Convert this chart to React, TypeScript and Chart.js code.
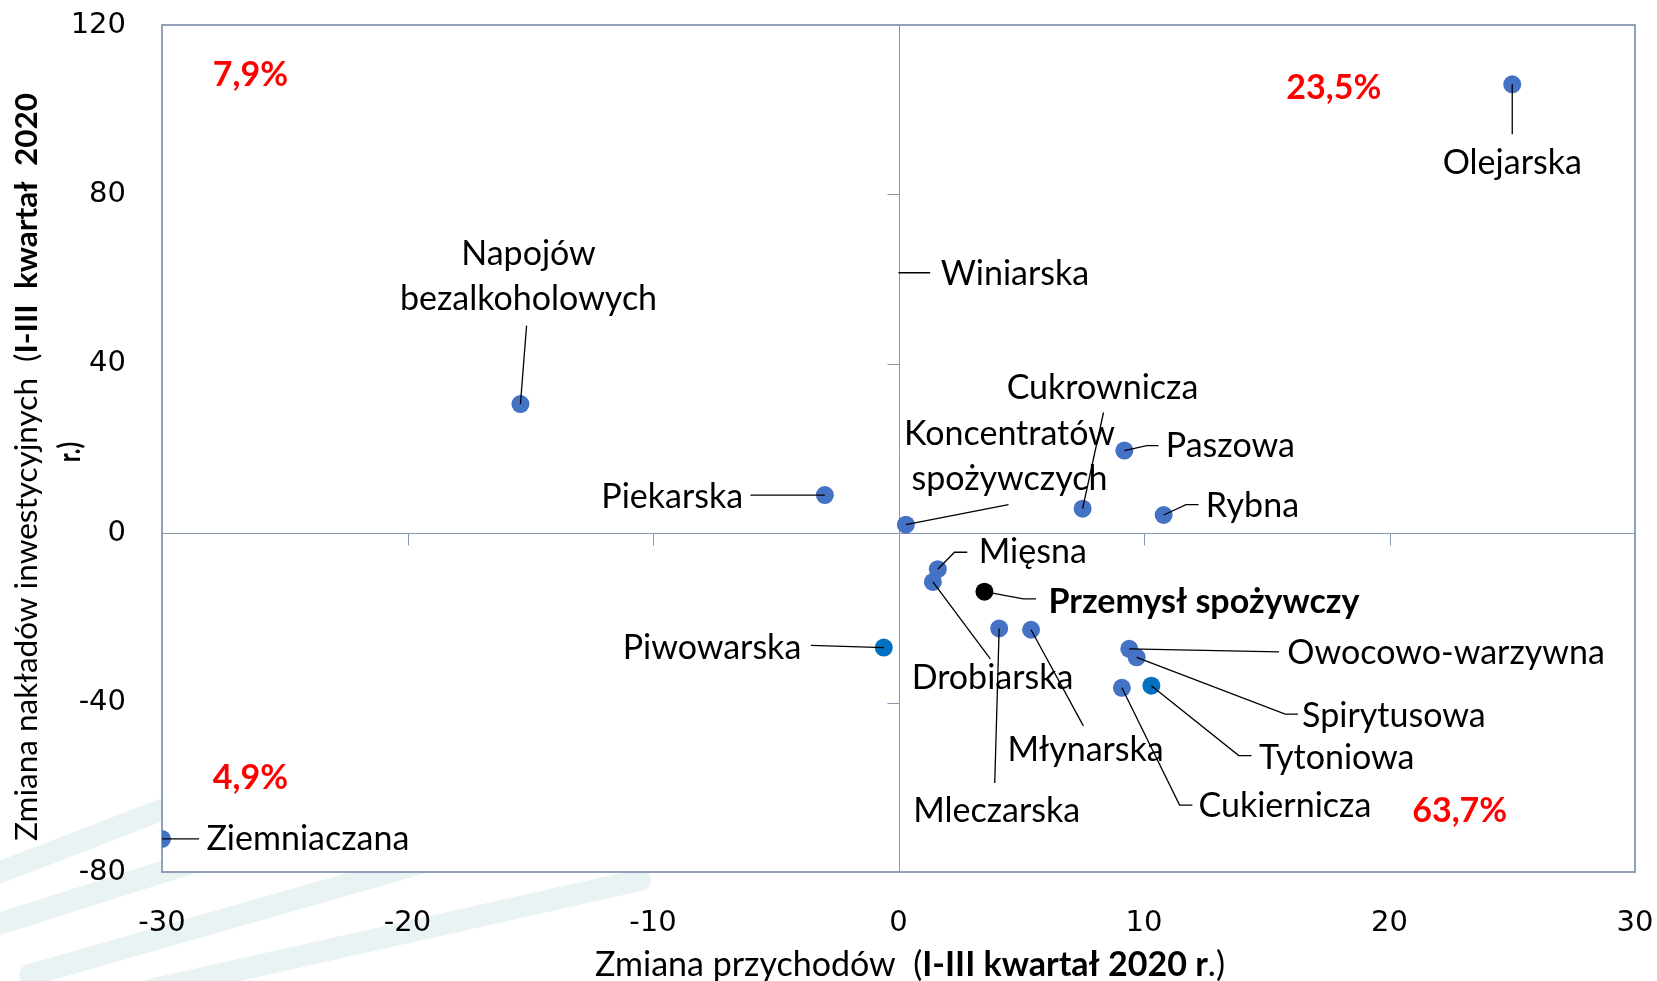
import React, { useEffect, useRef } from "react";
import { Chart, registerables } from "chart.js";
Chart.register(...registerables);

// ---------- data ----------
const categories = [
  "Olejarska",
  "Napojów bezalkoholowych",
  "Winiarska",
  "Cukrownicza",
  "Koncentratów spożywczych",
  "Paszowa",
  "Rybna",
  "Piekarska",
  "Mięsna",
  "Drobiarska",
  "Przemysł spożywczy",
  "Mleczarska",
  "Młynarska",
  "Piwowarska",
  "Owocowo-warzywna",
  "Spirytusowa",
  "Tytoniowa",
  "Cukiernicza",
  "Ziemniaczana",
];
// change of revenues (I-III quarter 2020), %
const revenueChange = [25.0, -15.4, 0.0, 7.5, 0.3, 9.2, 10.8, -3.0, 1.6, 1.4, 3.5, 4.1, 5.4, -0.6, 9.4, 9.7, 10.3, 9.1, -30.0];
// change of investment outlays (I-III quarter 2020), %
const investmentChange = [106.0, 30.5, 61.5, 5.8, 2.0, 19.5, 4.3, 9.0, -8.5, -11.5, -13.8, -22.5, -22.8, -27.0, -27.3, -29.3, -36.0, -36.5, -72.2];

const xMin = -30, xMax = 30, xStep = 10;
const yMin = -80, yMax = 120, yStep = 40;

const quadrantShares = ["7,9%", "23,5%", "4,9%", "63,7%"];
const quadrantX = [-26.4, 17.73, -26.4, 22.86];
const quadrantY = [108.2, 105.0, -57.7, -65.5];

// ---------- label placement (data units) ----------
type Placement = { align: CanvasTextAlign; x: number; y: number; path: number[][]; lines?: string[]; bold?: boolean };
const labelPlacement: Placement[] = [
  { align: "center", x: 25.0, y: 87.3, path: [[25.0, 94.2]] },
  { align: "center", x: -15.07, y: 60.6, path: [[-15.15, 49.0]], lines: ["Napojów", "bezalkoholowych"] },
  { align: "left", x: 1.72, y: 61.2, path: [[1.29, 61.5]] },
  { align: "center", x: 8.31, y: 34.2, path: [[8.35, 28.5]] },
  { align: "center", x: 4.52, y: 18.1, path: [[4.48, 6.75]], lines: ["Koncentratów", "spożywczych"] },
  { align: "left", x: 10.89, y: 20.5, path: [[10.11, 20.7], [10.59, 20.7]] },
  { align: "left", x: 12.52, y: 6.5, path: [[11.71, 6.75], [12.22, 6.75]] },
  { align: "right", x: -6.33, y: 8.5, path: [[-6.03, 9.0]] },
  { align: "left", x: 3.27, y: -4.5, path: [[2.28, -4.5], [2.8, -4.5]] },
  { align: "center", x: 3.83, y: -34.2, path: [[3.74, -29.7]] },
  { align: "left", x: 6.11, y: -16.2, path: [[5.08, -15.5], [5.6, -15.5]], bold: true },
  { align: "center", x: 4.0, y: -65.5, path: [[3.92, -59.0]] },
  { align: "center", x: 7.62, y: -51.2, path: [[7.53, -45.5]] },
  { align: "right", x: -3.96, y: -27.0, path: [[-3.57, -26.5]] },
  { align: "left", x: 15.84, y: -28.2, path: [[15.5, -28.0]] },
  { align: "left", x: 16.44, y: -43.2, path: [[15.75, -42.7], [16.27, -42.7]] },
  { align: "left", x: 14.68, y: -53.0, path: [[13.86, -52.5], [14.38, -52.5]] },
  { align: "left", x: 12.22, y: -64.5, path: [[11.45, -64.2], [11.97, -64.2]] },
  { align: "left", x: -28.19, y: -72.2, path: [[-28.49, -72.2]] },
];

const xTitleParts = [
  { t: "Zmiana przychodów  (", b: false },
  { t: "I-III kwartał 2020 r", b: true },
  { t: ".)", b: false },
];
const yTitleLine1 = [
  { t: "Zmiana nakładów inwestycyjnych  (", b: false },
  { t: "I-III  kwartał  2020", b: true },
];
const yTitleLine2 = [{ t: "r.)", b: true }];

// ---------- styles ----------
const LABEL_FONT = "Lato, 'Noto Sans', sans-serif";
const TICK_FONT = "'DejaVu Sans', Verdana, sans-serif";
const LABEL_SIZE = 34;
const FRAME = "#8797B2";
const pointColors = categories.map((n) =>
  n === "Przemysł spożywczy" ? "#000000" : n === "Piwowarska" || n === "Tytoniowa" ? "#0070C0" : "#4472C4"
);
const hiddenMarker = categories.map((n) => n === "Winiarska");

function drawRuns(ctx: CanvasRenderingContext2D, runs: { t: string; b: boolean }[], size: number, cx: number, y: number, scaleX = 1) {
  const widths = runs.map((r) => {
    ctx.font = `${r.b ? "bold " : ""}${size}px ${LABEL_FONT}`;
    return ctx.measureText(r.t).width;
  });
  const total = widths.reduce((a, b) => a + b, 0) * scaleX;
  let x = cx - total / 2;
  ctx.textAlign = "left";
  runs.forEach((r, i) => {
    ctx.font = `${r.b ? "bold " : ""}${size}px ${LABEL_FONT}`;
    ctx.save();
    ctx.translate(x, y);
    ctx.scale(scaleX, 1);
    ctx.fillText(r.t, 0, 0);
    ctx.restore();
    x += widths[i] * scaleX;
  });
  return total;
}

const decorPlugin = {
  id: "decor",
  beforeDraw(chart: any) {
    // faint background watermark in the lower-left corner
    const { ctx } = chart;
    ctx.save();
    ctx.strokeStyle = "rgba(160, 200, 200, 0.22)";
    ctx.lineCap = "round";
    const bands = [
      [[-20, 880], [330, 745]],
      [[-20, 930], [420, 790]],
      [[30, 975], [520, 835]],
      [[150, 990], [640, 880]],
    ];
    ctx.lineWidth = 22;
    bands.forEach(([a, b]) => {
      ctx.beginPath();
      ctx.moveTo(a[0], a[1]);
      ctx.lineTo(b[0], b[1]);
      ctx.stroke();
    });
    ctx.restore();
  },
  beforeDatasetsDraw(chart: any) {
    const { ctx, chartArea: a, scales } = chart;
    const xs = scales.x, ys = scales.y;
    ctx.save();
    ctx.fillStyle = "#ffffff";
    ctx.fillRect(a.left, a.top, a.right - a.left, a.bottom - a.top);
    ctx.strokeStyle = FRAME;
    ctx.lineWidth = 1;
    const x0 = Math.round(xs.getPixelForValue(0)) + 0.5;
    const y0 = Math.round(ys.getPixelForValue(0)) + 0.5;
    ctx.beginPath();
    ctx.moveTo(x0, a.top);
    ctx.lineTo(x0, a.bottom);
    ctx.moveTo(a.left, y0);
    ctx.lineTo(a.right, y0);
    for (let v = xMin + xStep; v < xMax; v += xStep) {
      if (v === 0) continue;
      const px = Math.round(xs.getPixelForValue(v)) + 0.5;
      ctx.moveTo(px, y0);
      ctx.lineTo(px, y0 + 12);
    }
    for (let v = yMin + yStep; v < yMax; v += yStep) {
      if (v === 0) continue;
      const py = Math.round(ys.getPixelForValue(v)) + 0.5;
      ctx.moveTo(x0, py);
      ctx.lineTo(x0 - 12, py);
    }
    ctx.stroke();
    ctx.lineWidth = 1.8;
    ctx.strokeRect(a.left, a.top, a.right - a.left, a.bottom - a.top);
    ctx.restore();
  },
  afterDatasetsDraw(chart: any) {
    const { ctx, scales } = chart;
    const xs = scales.x, ys = scales.y;
    ctx.save();
    ctx.strokeStyle = "#000000";
    ctx.lineWidth = 1.3;
    labelPlacement.forEach((p, i) => {
      ctx.beginPath();
      ctx.moveTo(xs.getPixelForValue(revenueChange[i]), ys.getPixelForValue(investmentChange[i]));
      p.path.forEach(([vx, vy]) => ctx.lineTo(xs.getPixelForValue(vx), ys.getPixelForValue(vy)));
      ctx.stroke();
    });
    ctx.fillStyle = "#000000";
    ctx.textBaseline = "middle";
    labelPlacement.forEach((p, i) => {
      ctx.font = `${p.bold ? "bold " : ""}${LABEL_SIZE}px ${LABEL_FONT}`;
      ctx.textAlign = p.align;
      const lines = p.lines || [categories[i]];
      const lh = 45;
      const cx = xs.getPixelForValue(p.x);
      const cy = ys.getPixelForValue(p.y);
      lines.forEach((ln, k) => {
        ctx.fillText(ln, cx, cy + (k - (lines.length - 1) / 2) * lh);
      });
    });
    ctx.fillStyle = "#FF0000";
    ctx.textAlign = "center";
    ctx.font = `bold ${LABEL_SIZE}px ${LABEL_FONT}`;
    quadrantShares.forEach((s, i) => {
      ctx.fillText(s, xs.getPixelForValue(quadrantX[i]), ys.getPixelForValue(quadrantY[i]));
    });
    ctx.restore();
  },
  afterDraw(chart: any) {
    const { ctx } = chart;
    ctx.save();
    ctx.fillStyle = "#000000";
    ctx.textBaseline = "alphabetic";
    drawRuns(ctx, xTitleParts, LABEL_SIZE, 910, 976);
    ctx.save();
    ctx.translate(37, 467);
    ctx.rotate(-Math.PI / 2);
    let w = 0;
    yTitleLine1.forEach((r) => {
      ctx.font = `${r.b ? "bold " : ""}30px ${LABEL_FONT}`;
      w += ctx.measureText(r.t).width;
    });
    drawRuns(ctx, yTitleLine1, 30, 0, 0, 748 / w);
    ctx.restore();
    ctx.save();
    ctx.translate(80, 452);
    ctx.rotate(-Math.PI / 2);
    drawRuns(ctx, yTitleLine2, 30, 0, 0, 0.8);
    ctx.restore();
    ctx.restore();
  },
};

export default function App() {
  const canvasRef = useRef<HTMLCanvasElement | null>(null);

  useEffect(() => {
    document.body.style.margin = "0";
    document.body.style.background = "#ffffff";
    const canvas = canvasRef.current!;
    const points = categories.map((_, i) => ({ x: revenueChange[i], y: investmentChange[i] }));
    const chart = new Chart(canvas, {
      type: "scatter",
      data: {
        datasets: [
          {
            label: "Branże",
            data: points,
            pointRadius: (c: any) => (hiddenMarker[c.dataIndex] ? 0 : 9),
            pointHoverRadius: 9,
            pointBackgroundColor: (c: any) => pointColors[c.dataIndex],
            pointBorderColor: (c: any) => pointColors[c.dataIndex],
            pointBorderWidth: 0,
          },
        ],
      },
      options: {
        responsive: false,
        animation: false,
        devicePixelRatio: 1,
        layout: { padding: { top: 25, right: 22, left: 0, bottom: 0 } },
        plugins: { legend: { display: false }, tooltip: { enabled: false }, title: { display: false } },
        scales: {
          x: {
            type: "linear",
            min: xMin,
            max: xMax,
            grid: { display: false, drawTicks: false },
            border: { display: false },
            ticks: {
              stepSize: xStep,
              padding: 34,
              color: "#000000",
              font: { family: TICK_FONT, size: 29 },
              maxRotation: 0,
            },
            afterFit: (s: any) => {
              s.height = 109;
              s.paddingLeft = 0;
              s.paddingRight = 0;
            },
          },
          y: {
            type: "linear",
            min: yMin,
            max: yMax,
            grid: { display: false, drawTicks: false },
            border: { display: false },
            ticks: {
              stepSize: yStep,
              padding: 36,
              color: "#000000",
              font: { family: TICK_FONT, size: 29 },
            },
            afterFit: (s: any) => {
              s.width = 162;
              s.paddingTop = 0;
              s.paddingBottom = 0;
            },
          },
        },
      },
      plugins: [decorPlugin],
    } as any);
    return () => chart.destroy();
  }, []);

  return (
    <div style={{ width: 1657, height: 981, position: "relative", background: "#fff" }}>
      <canvas ref={canvasRef} width={1657} height={981} style={{ display: "block", width: 1657, height: 981 }} />
    </div>
  );
}
